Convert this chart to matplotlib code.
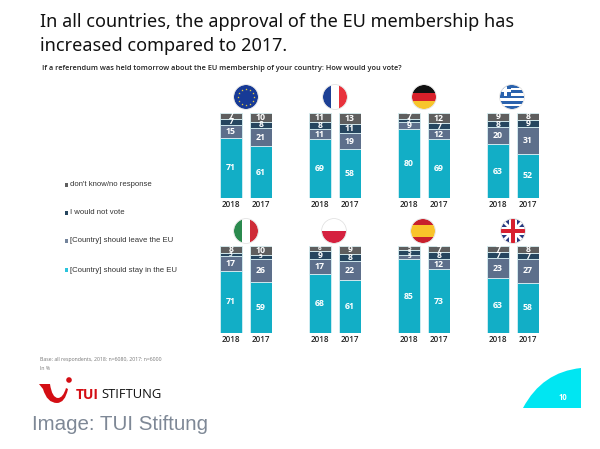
import matplotlib
matplotlib.use('Agg')
import numpy as np
import matplotlib.pyplot as plt
from matplotlib.patches import Circle, Rectangle, PathPatch, Polygon
from matplotlib.path import Path

W, H = 600, 449

years = ['2018', '2017']
segments = ['[Country] should stay in the EU', '[Country] should leave the EU',
            'I would not vote', "don't know/no response"]
colors = ['#12aec6', '#5d6f8b', '#26465f', '#5e5e5e']

# stay, leave, not vote, don't know
eu_vals = [[71, 15, 7, 7], [61, 21, 8, 10]]
france_vals = [[69, 11, 8, 11], [58, 19, 11, 13]]
germany_vals = [[80, 9, 3, 7], [69, 12, 7, 12]]
greece_vals = [[63, 20, 8, 9], [52, 31, 9, 8]]
italy_vals = [[71, 17, 3, 8], [59, 26, 5, 10]]
poland_vals = [[68, 17, 9, 6], [61, 22, 8, 9]]
spain_vals = [[85, 5, 5, 5], [73, 12, 8, 7]]
uk_vals = [[63, 23, 7, 7], [58, 27, 7, 8]]

fig = plt.figure(figsize=(6, 4.49), dpi=100)

# whole figure axes in pixels, for texts, flags and logo
bg = fig.add_axes([0, 0, 1, 1])
bg.set_xlim(0, W)
bg.set_ylim(H, 0)
bg.axis('off')


def panel(vals, left, top, bottom):
    # left = pixel x of first bar, bars are 22 wide with 8 gap
    ax = fig.add_axes([left / W, 1 - bottom / H, 52 / W, (bottom - top) / H])
    ax.set_xlim(-0.5, 1.86)
    ax.set_ylim(0, 100)
    ax.axis('off')
    for i, row in enumerate(vals):
        scale = 100 / sum(row)
        base = 0
        for v, c in zip(row, colors):
            h = v * scale
            ax.bar(i * 1.36, h, bottom=base, width=1.0, color=c, edgecolor='#d8f0f4', linewidth=0.6)
            fs = 6.3 if v > 6 else 4.6
            ax.text(i * 1.36, base + h / 2, str(v), color='white', fontsize=fs, fontweight='bold',
                    ha='center', va='center', family='Open Sans')
            base += h
        ax.text(i * 1.36, -7.5, years[i], fontsize=5.8, fontweight='semibold', color='#222222',
                ha='center', va='center', family='Open Sans', clip_on=False)


panel(eu_vals, 220, 113, 198)
panel(france_vals, 309, 113, 198)
panel(germany_vals, 398, 113, 198)
panel(greece_vals, 487, 113, 198)
panel(italy_vals, 220, 246, 333)
panel(poland_vals, 309, 246, 333)
panel(spain_vals, 398, 246, 333)
panel(uk_vals, 487, 246, 333)


def flag(cx, cy, r, shapes):
    clip = Circle((cx, cy), r, transform=bg.transData)
    for s in shapes:
        bg.add_patch(s)
        s.set_clip_path(clip)
    bg.add_patch(Circle((cx, cy), r + 0.4, fc='none', ec='#dddddd', lw=0.5))


def rect(cx, cy, x0, y0, w, h, c):
    return Rectangle((cx + x0, cy + y0), w, h, fc=c, ec='none')


# EU
flag(246, 97, 12, [rect(246, 97, -12, -12, 24, 24, '#173a96')])
ang = np.arange(12) * np.pi / 6
bg.scatter(246 + 8 * np.cos(ang), 97 + 8 * np.sin(ang), marker='*', s=3, color='#f4d63a', linewidths=0)
# France
flag(335, 97, 12, [rect(335, 97, -12, -12, 8, 24, '#1c3f94'), rect(335, 97, -4, -12, 8, 24, '#ffffff'),
                   rect(335, 97, 4, -12, 8, 24, '#e8323c')])
# Germany
flag(424, 97, 12, [rect(424, 97, -12, -12, 24, 8, '#111111'), rect(424, 97, -12, -4, 24, 8, '#d8202a'),
                   rect(424, 97, -12, 4, 24, 8, '#f7c52c')])
# Greece
stripes = [rect(512, 97, -12, -12 + i * 24 / 9, 24, 24 / 9, '#2a62ad' if i % 2 == 0 else '#ffffff') for i in range(9)]
stripes += [rect(512, 97, -12, -12, 11, 11, '#2a62ad'), rect(512, 97, -8, -12, 3, 11, '#ffffff'),
            rect(512, 97, -12, -8, 11, 3, '#ffffff')]
flag(512, 97, 12, stripes)
# Italy
flag(246, 231, 12, [rect(246, 231, -12, -12, 8, 24, '#2b8a4e'), rect(246, 231, -4, -12, 8, 24, '#ffffff'),
                    rect(246, 231, 4, -12, 8, 24, '#cf2b37')])
# Poland
flag(334, 231, 12, [rect(334, 231, -12, -12, 24, 12, '#ffffff'), rect(334, 231, -12, 0, 24, 12, '#d5213f')])
# Spain
flag(423, 231, 12, [rect(423, 231, -12, -12, 24, 6, '#c8202c'), rect(423, 231, -12, -6, 24, 12, '#f9c32a'),
                    rect(423, 231, -12, 6, 24, 6, '#c8202c')])
# UK
uk = [rect(513, 231, -12, -12, 24, 24, '#27397f'),
      Polygon([(501, 221), (503, 219), (525, 241), (523, 243)], fc='white', ec='none'),
      Polygon([(525, 221), (523, 219), (501, 241), (503, 243)], fc='white', ec='none'),
      rect(513, 231, -12, -4, 24, 8, '#ffffff'), rect(513, 231, -4, -12, 8, 24, '#ffffff'),
      rect(513, 231, -12, -2.2, 24, 4.4, '#d8202f'), rect(513, 231, -2.2, -12, 4.4, 24, '#d8202f')]
flag(513, 231, 12, uk)

# title and question
bg.text(40, 22, 'In all countries, the approval of the EU membership has', fontsize=13,
        family='Noto Sans', color='#111111', va='center')
bg.text(40, 46, 'increased compared to 2017.', fontsize=13, family='Noto Sans', color='#111111', va='center')
bg.text(42, 69, 'If a referendum was held tomorrow about the EU membership of your country: How would you vote?',
        fontsize=5.35, family='Open Sans', fontweight='semibold', color='#222222', va='center')

# legend, top to bottom
legend_y = [270, 241, 213, 185]
legend_c = ['#2bc4dc', '#73849c', '#26465f', '#5e5e5e']
for s, y, c in zip(segments, legend_y, legend_c):
    bg.add_patch(Rectangle((64.5, y - 1.75), 3.5, 3.5, fc=c, ec='none'))
    bg.text(70, y, s, fontsize=5.6, family='Liberation Sans', color='#333333', va='center')

# footnote
bg.text(40, 359, 'Base: all respondents, 2018: n=6080, 2017: n=6000', fontsize=3.7, family='Open Sans',
        color='#777777', va='center')
bg.text(40, 369, 'In %', fontsize=3.7, family='Open Sans', color='#777777', va='center')

# logo
smile = Path([(39, 384), (50, 384), (52, 398), (58, 398), (63, 398), (66, 388), (68, 389), (65, 403), (57, 403),
              (47, 403), (43, 389), (39, 384)],
             [Path.MOVETO, Path.LINETO, Path.CURVE3, Path.CURVE3, Path.CURVE3, Path.CURVE3, Path.LINETO,
              Path.CURVE3, Path.CURVE3, Path.CURVE3, Path.CURVE3, Path.CLOSEPOLY])
bg.add_patch(PathPatch(smile, fc='#d40e14', ec='none'))
bg.add_patch(Circle((69, 380), 2.8, fc='#d40e14', ec='none'))
bg.text(76, 395, 'TUI', fontsize=10, fontweight='bold', family='Open Sans', color='#d40e14', va='center')
bg.text(101, 395, 'STIFTUNG', fontsize=9.4, family='Open Sans', color='#111111', va='center')

bg.text(32, 424, 'Image: TUI Stiftung', fontsize=14.8, family='Liberation Sans', color='#7e8896', va='center')

# page corner shape
corner = Path([(523, 408), (542, 372), (581, 368), (581, 408), (523, 408)],
              [Path.MOVETO, Path.CURVE3, Path.CURVE3, Path.LINETO, Path.CLOSEPOLY])
bg.add_patch(PathPatch(corner, fc='#00e6f2', ec='none'))
bg.text(563, 397, '10', fontsize=5.5, fontweight='bold', family='Open Sans', color='white', ha='center', va='center')

fig.savefig('out.png', dpi=100)
